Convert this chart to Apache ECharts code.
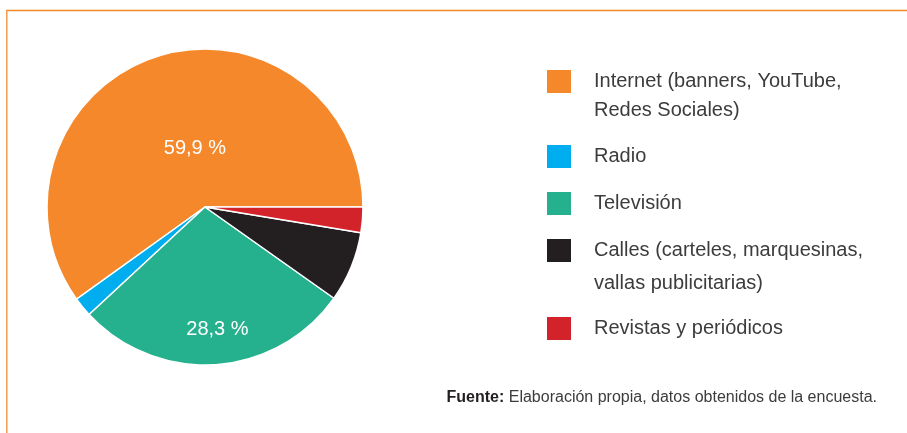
<!DOCTYPE html>
<html>
<head>
<meta charset="utf-8">
<script src="https://cdn.jsdelivr.net/npm/echarts@6/dist/echarts.min.js"></script>
<style>
html,body{margin:0;padding:0;background:#fff;}
#main{width:907px;height:433px;}
</style>
</head>
<body>
<div id="main"></div>
<script>
const categories = [
  'Internet (banners, YouTube,\nRedes Sociales)',
  'Radio',
  'Televisión',
  'Calles (carteles, marquesinas,\nvallas publicitarias)',
  'Revistas y periódicos'
];
const values = [59.9, 2.0, 28.3, 7.2, 2.6];
const colors = ['#f4882a', '#00aeef', '#25b08e', '#231f20', '#d2232a'];
const labelShown = [true, false, true, false, false];
const sourceBold = 'Fuente:';
const sourceText = ' Elaboración propia, datos obtenidos de la encuesta.';

const chart = echarts.init(document.getElementById('main'), null, {renderer: 'canvas'});

const legendTops = [38, 141.5, 188.5, 201, 313.5];
const legendLH = [29, 30, 30, 33, 30];
const legends = categories.map((name, i) => {
  return {
    orient: 'vertical',
    left: 545,
    top: legendTops[i],
    padding: 0,
    itemWidth: 26,
    itemHeight: 25,
    icon: 'rect',
    selectedMode: false,
    data: [name],
    formatter: n => (n.indexOf('\n') >= 0 ? '\n' + n : n),
    textStyle: {
      fontFamily: 'Liberation Sans',
      fontSize: 20,
      color: '#3c3c3c',
      lineHeight: legendLH[i],
      padding: [0, 0, 0, 17]
    }
  };
});

const labelOffsets = [[15, 20], [0, 0], [7, 41], [0, 0], [0, 0]];

chart.setOption({
  animation: false,
  backgroundColor: '#ffffff',
  color: colors,
  title: {
    right: 30,
    top: 390,
    padding: 0,
    text: '{b|' + sourceBold + '}{n|' + sourceText + '}',
    textStyle: {
      rich: {
        b: {fontFamily: 'Liberation Sans', fontSize: 16, fontWeight: 'bold', color: '#231f20'},
        n: {fontFamily: 'Liberation Sans', fontSize: 16, fontWeight: 'normal', color: '#3c3c3c'}
      }
    }
  },
  legend: legends,
  graphic: [
    {type: 'line', shape: {x1: 6, y1: 10.5, x2: 907, y2: 10.5}, style: {stroke: '#f4882a', lineWidth: 1.5}},
    {type: 'line', shape: {x1: 6.8, y1: 10, x2: 6.8, y2: 433}, style: {stroke: '#f59a50', lineWidth: 1.5}}
  ],
  series: [{
    type: 'pie',
    center: [205, 207],
    radius: 158,
    startAngle: 0,
    clockwise: false,
    silent: true,
    itemStyle: {borderColor: '#ffffff', borderWidth: 1.5},
    label: {
      position: 'inside',
      fontFamily: 'Liberation Sans',
      fontSize: 20,
      color: '#ffffff',
      formatter: p => String(p.value).replace('.', ',') + ' %'
    },
    labelLine: {show: false},
    labelLayout: p => ({dx: labelOffsets[p.dataIndex][0], dy: labelOffsets[p.dataIndex][1]}),
    data: categories.map((name, i) => ({
      name: name,
      value: values[i],
      label: {show: labelShown[i]}
    }))
  }]
});
</script>
</body>
</html>
